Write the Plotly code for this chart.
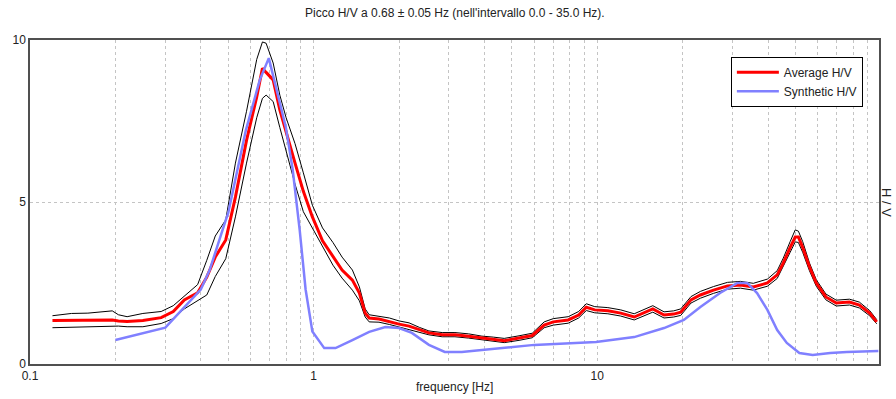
import math
import plotly.graph_objects as go

# ---- data ----
freq = [0.12, 0.14, 0.16, 0.18, 0.195, 0.205, 0.22, 0.25, 0.29, 0.32, 0.35, 0.39, 0.42, 0.45,
        0.49, 0.53, 0.58, 0.63, 0.66, 0.68, 0.72, 0.76, 0.80, 0.86, 0.92, 0.99, 1.075, 1.17,
        1.26, 1.37, 1.45, 1.52, 1.57, 1.70, 1.85, 2.0, 2.17, 2.36, 2.55, 2.84, 3.15, 3.52,
        3.92, 4.3, 4.7, 5.3, 5.9, 6.5, 7.0, 7.9, 8.6, 9.15, 9.8, 10.9, 12.1, 13.5, 14.6,
        15.7, 17.2, 18.6, 19.7, 21.4, 23.1, 25.7, 28.8, 32.0, 35.5, 39.8, 43.1, 45.3, 47.9,
        49.9, 51.2, 53.0, 56.0, 59.2, 64.0, 69.6, 77.5, 84.0, 91.3, 96.7]
avg_hv = [1.34, 1.35, 1.35, 1.36, 1.36, 1.33, 1.31, 1.34, 1.43, 1.62, 1.98, 2.20, 2.68, 3.30,
          3.83, 5.15, 6.90, 8.24, 9.13, 9.00, 8.77, 7.84, 7.13, 6.20, 5.33, 4.54, 3.80, 3.30,
          2.90, 2.59, 2.19, 1.57, 1.42, 1.39, 1.30, 1.23, 1.17, 1.05, 0.96, 0.90, 0.90, 0.86,
          0.80, 0.76, 0.72, 0.80, 0.88, 1.20, 1.30, 1.36, 1.51, 1.75, 1.67, 1.64, 1.57, 1.45,
          1.57, 1.70, 1.51, 1.54, 1.60, 1.98, 2.13, 2.28, 2.41, 2.44, 2.38, 2.50, 2.75, 3.12,
          3.60, 3.92, 3.92, 3.60, 3.00, 2.50, 2.07, 1.88, 1.91, 1.82, 1.57, 1.30]
upper_hv = [1.49, 1.56, 1.57, 1.60, 1.64, 1.52, 1.46, 1.56, 1.62, 1.80, 2.10, 2.45, 3.20, 3.95,
            4.45, 6.20, 7.80, 9.40, 9.94, 9.90, 9.29, 8.30, 7.60, 6.80, 5.90, 4.90, 4.20, 3.75,
            3.30, 2.90, 2.38, 1.70, 1.52, 1.48, 1.42, 1.33, 1.27, 1.13, 1.02, 0.97, 0.97, 0.93,
            0.86, 0.83, 0.79, 0.87, 0.95, 1.30, 1.40, 1.46, 1.62, 1.86, 1.77, 1.74, 1.67, 1.55,
            1.67, 1.80, 1.61, 1.64, 1.70, 2.08, 2.24, 2.39, 2.52, 2.55, 2.49, 2.62, 2.88, 3.27,
            3.78, 4.14, 4.10, 3.78, 3.12, 2.60, 2.16, 1.97, 2.00, 1.91, 1.65, 1.37]
lower_hv = [1.12, 1.14, 1.15, 1.16, 1.17, 1.17, 1.15, 1.15, 1.25, 1.40, 1.70, 1.95, 2.13, 2.70,
            3.25, 4.54, 6.20, 7.60, 8.20, 8.30, 8.10, 7.30, 6.55, 5.55, 4.70, 4.20, 3.60, 3.05,
            2.65, 2.28, 1.95, 1.45, 1.30, 1.29, 1.22, 1.14, 1.08, 0.98, 0.90, 0.84, 0.84, 0.80,
            0.74, 0.70, 0.66, 0.73, 0.81, 1.12, 1.20, 1.26, 1.42, 1.65, 1.58, 1.55, 1.48, 1.36,
            1.48, 1.60, 1.42, 1.45, 1.50, 1.88, 2.03, 2.18, 2.31, 2.34, 2.28, 2.40, 2.64, 3.00,
            3.45, 3.77, 3.75, 3.45, 2.88, 2.40, 1.98, 1.79, 1.82, 1.73, 1.49, 1.24]

syn_freq = [0.2, 0.3, 0.40, 0.43, 0.49, 0.5, 0.577, 0.646, 0.695, 0.736, 0.798, 0.844, 0.893,
            0.937, 0.99, 1.09, 1.195, 1.37, 1.57, 1.79, 2.0, 2.22, 2.55, 2.9, 3.33, 3.92, 6.0,
            9.9, 13.5, 17.2, 20.2, 23.1, 27.1, 31.2, 33.8, 36.6, 39.8, 43.1, 46.6, 51.6, 57.5,
            66.3, 75.9, 98.0]
syn_hv = [0.74, 1.12, 2.30, 2.90, 4.44, 4.66, 7.22, 8.77, 9.44, 8.55, 7.31, 5.99, 4.14,
          2.30, 1.00, 0.49, 0.49, 0.74, 0.99, 1.14, 1.11, 0.96, 0.59, 0.37, 0.37, 0.43, 0.59,
          0.68, 0.83, 1.11, 1.36, 1.76, 2.19, 2.50, 2.50, 2.19, 1.67, 1.05, 0.65, 0.34, 0.28,
          0.34, 0.37, 0.40]

grid_vals = [0.1, 0.2, 0.3, 0.4, 0.5, 0.6, 0.7, 0.8, 0.9, 1, 2, 3, 4, 5, 6, 7, 8, 9,
             10, 20, 30, 40, 50, 60, 70, 80, 90]
label_map = {0.1: "0.1", 1: "1", 10: "10"}
y_ticks = [0, 5, 10]

title_text = "Picco H/V a 0.68 \u00b1 0.05 Hz (nell'intervallo 0.0 - 35.0 Hz)."

FONT = "Arial, Liberation Sans, sans-serif"
GRID = "#c4c4c4"

fig = go.Figure()
fig.add_trace(go.Scatter(x=freq, y=upper_hv, mode="lines", line=dict(color="black", width=1),
                         showlegend=False, hoverinfo="skip"))
fig.add_trace(go.Scatter(x=freq, y=lower_hv, mode="lines", line=dict(color="black", width=1),
                         showlegend=False, hoverinfo="skip"))
fig.add_trace(go.Scatter(x=freq, y=avg_hv, mode="lines", name="Average H/V",
                         line=dict(color="#ff0000", width=3)))
fig.add_trace(go.Scatter(x=syn_freq, y=syn_hv, mode="lines", name="Synthetic H/V",
                         line=dict(color="#8080ff", width=2.5)))

fig.update_layout(
    width=896, height=399,
    margin=dict(l=26, r=17, t=40, b=35),
    paper_bgcolor="white", plot_bgcolor="white",
    font=dict(family=FONT, size=12, color="#222"),
    showlegend=True,
    legend=dict(x=0.981, y=0.948, xanchor="right", yanchor="top",
                bgcolor="white", bordercolor="black", borderwidth=1,
                font=dict(family=FONT, size=12, color="#222"),
                tracegroupgap=0, itemwidth=42),
    xaxis=dict(type="log", range=[-1, math.log10(98.5)],
               tickmode="array", tickvals=grid_vals,
               ticktext=[label_map.get(v, "") for v in grid_vals],
               showgrid=True, gridcolor=GRID, griddash="3px,3px", gridwidth=1,
               ticks="", showline=True, linecolor="#505050", linewidth=1.5, mirror=True,
               zeroline=False, tickfont=dict(size=12, color="#222")),
    yaxis=dict(range=[0, 10], tickmode="array", tickvals=y_ticks,
               ticktext=[str(v) for v in y_ticks],
               showgrid=True, gridcolor=GRID, griddash="3px,3px", gridwidth=1,
               ticks="", showline=True, linecolor="#505050", linewidth=1.5, mirror=True,
               zeroline=False, tickfont=dict(size=12, color="#222")),
    annotations=[
        dict(text=title_text, xref="paper", yref="paper", x=0.5, y=1.0, yshift=27,
             xanchor="center", yanchor="middle", showarrow=False,
             font=dict(family=FONT, size=12, color="#222")),
        dict(text="frequency [Hz]", xref="paper", yref="paper", x=0.5, y=0, yshift=-23,
             xanchor="center", yanchor="middle", showarrow=False,
             font=dict(family=FONT, size=12, color="#222")),
        dict(text="H / V", xref="paper", yref="paper", x=1.0, y=0.5, xshift=8,
             xanchor="center", yanchor="middle", textangle=90, showarrow=False,
             font=dict(family=FONT, size=13, color="#222")),
    ],
)

fig.write_html("out.html")
